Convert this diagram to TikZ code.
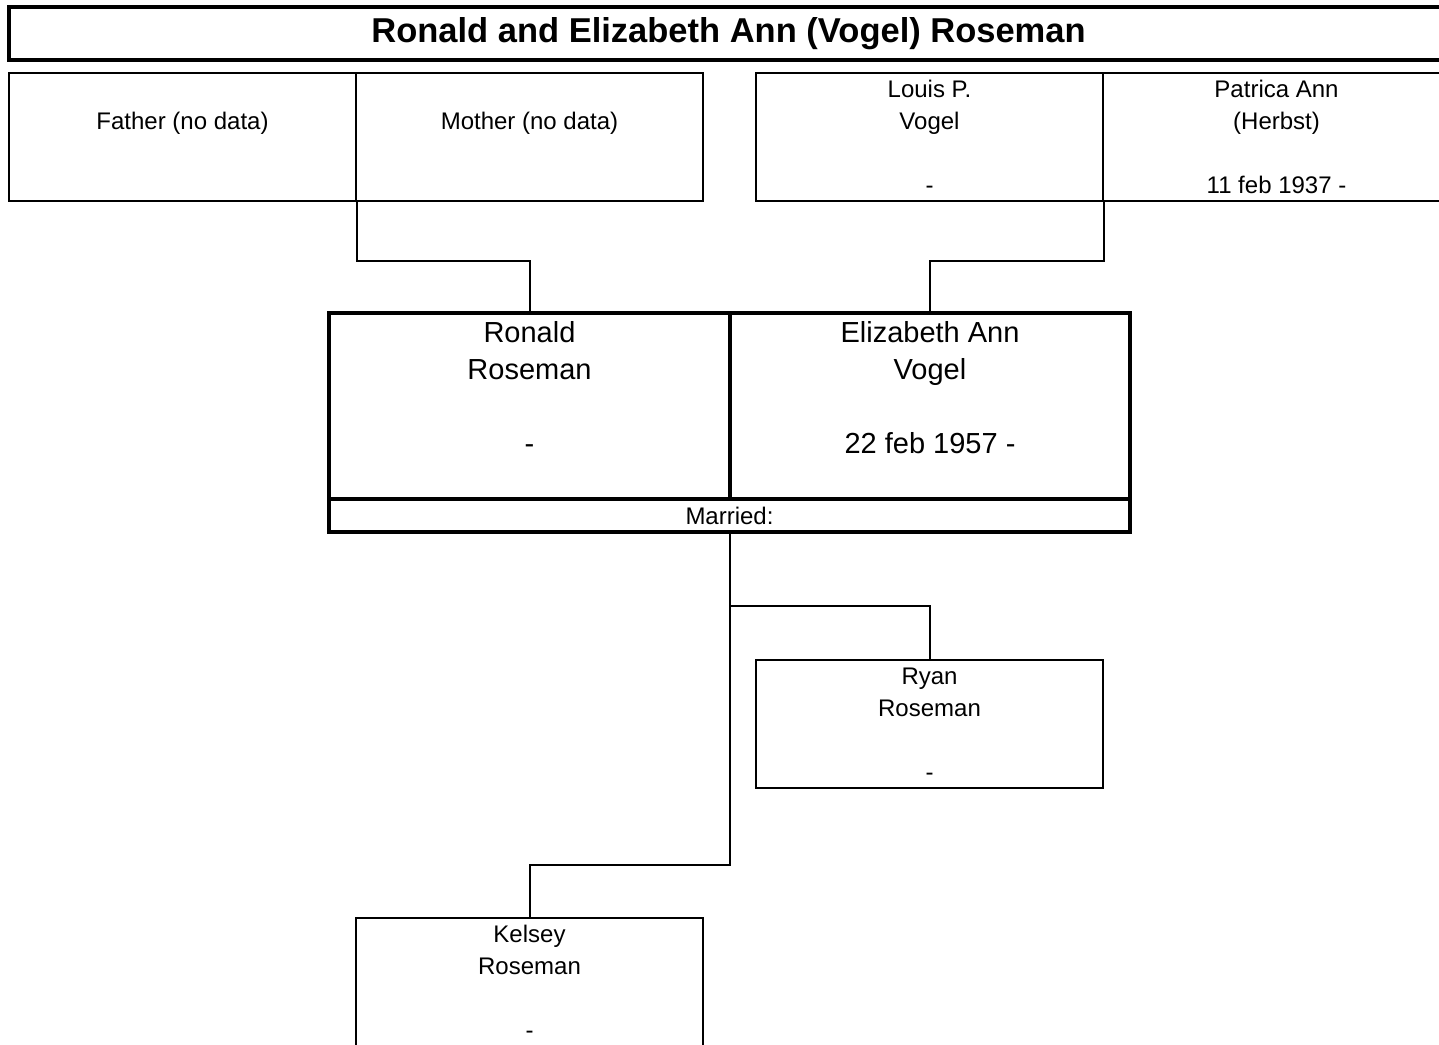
\documentclass[tikz,border=0pt]{standalone}
\usepackage{fontspec}
\setmainfont{Liberation Sans}
\usetikzlibrary{positioning}

% struts that fix one text line in a box
\newcommand\sline{\rule[-3.8pt]{0pt}{16pt}}
\newcommand\bline{\rule[-4.1pt]{0pt}{18.6pt}}

\tikzset{
  person/.style={draw,line width=1pt,inner sep=0pt,minimum width=173.5pt,minimum height=64pt,
    align=center,font=\fontsize{12}{16}\selectfont},
  spouse/.style={draw,line width=1.6pt,inner sep=0pt,minimum height=93pt,
    align=center,font=\fontsize{14.5}{18.6}\selectfont},
  link/.style={line width=1pt},
}

\begin{document}
\begin{tikzpicture}[x=.5pt,y=-.5pt]
\clip (0,0) rectangle (1439,1044);
\node[draw,line width=1.6pt,inner sep=0pt,minimum width=719.5pt,minimum height=26.5pt,
  font=\fontsize{17.25}{20}\selectfont\bfseries] (title) at (728.5,33.5)
  {Ronald and Elizabeth Ann (Vogel) Roseman};

% parents of both spouses
\node[person] (father) at (182.5,137) {\sline\\\sline Father (no data)\\\sline\\\sline};
\node[person] (mother) at (529.5,137) {\sline\\\sline Mother (no data)\\\sline\\\sline};
\node[person] (louis) at (929.5,137) {\sline Louis P.\\\sline Vogel\\\sline\\\sline -};
\node[person] (patrica) at (1276.5,137) {\sline Patrica Ann\\\sline (Herbst)\\\sline\\\sline 11 feb 1937 -};

% the couple
\node[spouse,minimum width=200.5pt] (ronald) at (529.5,406)
  {\bline Ronald\\\bline Roseman\\\bline\\\bline -\\\bline};
\node[spouse,minimum width=200pt] (eliz) at (930,406)
  {\bline Elizabeth Ann\\\bline Vogel\\\bline\\\bline 22 feb 1957 -\\\bline};
\node[spouse,minimum width=400.5pt,minimum height=16.5pt,font=\fontsize{12}{16}\selectfont]
  (married) at (729.5,515.5) {Married:};

% children
\node[person] (ryan) at (929.5,724) {\sline Ryan\\\sline Roseman\\\sline\\\sline -};
\node[person] (kelsey) at (529.5,982) {\sline Kelsey\\\sline Roseman\\\sline\\\sline -};

\coordinate (ryanfork) at (729.5,606);
\coordinate (kelseyfork) at (729.5,865);

\draw[link] (father.south east) -- ++(0,59) -| (ronald.north);
\draw[link] (louis.south east) -- ++(0,59) -| (eliz.north);
\draw[link] (married.south) -- (kelseyfork) -| (kelsey.north);
\draw[link] (ryanfork) -| (ryan.north);
\end{tikzpicture}
\end{document}
